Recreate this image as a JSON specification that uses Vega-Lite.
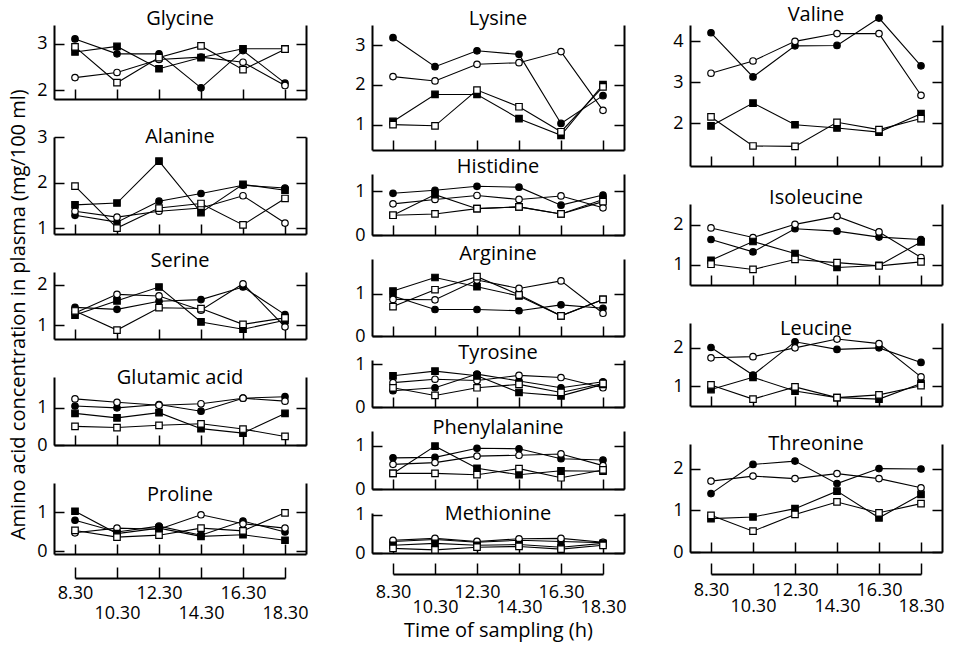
{
"$schema":"https://vega.github.io/schema/vega-lite/v6.json",
"background":"white",
"padding":{"left":8,"top":5,"right":5,"bottom":5},
"title":{"text":"Amino acid concentration in plasma (mg/100 ml)","orient":"left","anchor":"middle","fontSize":20,"fontWeight":"normal","offset":8,"dx":8},
"datasets":{
"Glycine":[{"s":"fc","t":8.5,"v":3.1},{"s":"fc","t":10.5,"v":2.78},{"s":"fc","t":12.5,"v":2.78},{"s":"fc","t":14.5,"v":2.05},{"s":"fc","t":16.5,"v":2.85},{"s":"fc","t":18.5,"v":2.15},{"s":"oc","t":8.5,"v":2.27},{"s":"oc","t":10.5,"v":2.38},{"s":"oc","t":12.5,"v":2.66},{"s":"oc","t":14.5,"v":2.71},{"s":"oc","t":16.5,"v":2.6},{"s":"oc","t":18.5,"v":2.1},{"s":"fs","t":8.5,"v":2.82},{"s":"fs","t":10.5,"v":2.94},{"s":"fs","t":12.5,"v":2.46},{"s":"fs","t":14.5,"v":2.7},{"s":"fs","t":16.5,"v":2.89},{"s":"fs","t":18.5,"v":2.89},{"s":"os","t":8.5,"v":2.93},{"s":"os","t":10.5,"v":2.16},{"s":"os","t":12.5,"v":2.7},{"s":"os","t":14.5,"v":2.95},{"s":"os","t":16.5,"v":2.44},{"s":"os","t":18.5,"v":2.88}],
"Alanine":[{"s":"fc","t":8.5,"v":1.28},{"s":"fc","t":10.5,"v":1.13},{"s":"fc","t":12.5,"v":1.59},{"s":"fc","t":14.5,"v":1.76},{"s":"fc","t":16.5,"v":1.94},{"s":"fc","t":18.5,"v":1.88},{"s":"oc","t":8.5,"v":1.37},{"s":"oc","t":10.5,"v":1.24},{"s":"oc","t":12.5,"v":1.37},{"s":"oc","t":14.5,"v":1.44},{"s":"oc","t":16.5,"v":1.71},{"s":"oc","t":18.5,"v":1.11},{"s":"fs","t":8.5,"v":1.51},{"s":"fs","t":10.5,"v":1.55},{"s":"fs","t":12.5,"v":2.47},{"s":"fs","t":14.5,"v":1.34},{"s":"fs","t":16.5,"v":1.96},{"s":"fs","t":18.5,"v":1.83},{"s":"os","t":8.5,"v":1.92},{"s":"os","t":10.5,"v":1.0},{"s":"os","t":12.5,"v":1.44},{"s":"os","t":14.5,"v":1.54},{"s":"os","t":16.5,"v":1.07},{"s":"os","t":18.5,"v":1.65}],
"Serine":[{"s":"fc","t":8.5,"v":1.44},{"s":"fc","t":10.5,"v":1.39},{"s":"fc","t":12.5,"v":1.59},{"s":"fc","t":14.5,"v":1.63},{"s":"fc","t":16.5,"v":1.94},{"s":"fc","t":18.5,"v":1.26},{"s":"oc","t":8.5,"v":1.3},{"s":"oc","t":10.5,"v":1.76},{"s":"oc","t":12.5,"v":1.72},{"s":"oc","t":14.5,"v":1.37},{"s":"oc","t":16.5,"v":2.02},{"s":"oc","t":18.5,"v":0.96},{"s":"fs","t":8.5,"v":1.25},{"s":"fs","t":10.5,"v":1.6},{"s":"fs","t":12.5,"v":1.94},{"s":"fs","t":14.5,"v":1.08},{"s":"fs","t":16.5,"v":0.9},{"s":"fs","t":18.5,"v":1.12},{"s":"os","t":8.5,"v":1.35},{"s":"os","t":10.5,"v":0.88},{"s":"os","t":12.5,"v":1.43},{"s":"os","t":14.5,"v":1.41},{"s":"os","t":16.5,"v":1.02},{"s":"os","t":18.5,"v":1.18}],
"Glutamic":[{"s":"fc","t":8.5,"v":1.05},{"s":"fc","t":10.5,"v":1.0},{"s":"fc","t":12.5,"v":1.09},{"s":"fc","t":14.5,"v":0.91},{"s":"fc","t":16.5,"v":1.26},{"s":"fc","t":18.5,"v":1.3},{"s":"oc","t":8.5,"v":1.24},{"s":"oc","t":10.5,"v":1.15},{"s":"oc","t":12.5,"v":1.07},{"s":"oc","t":14.5,"v":1.11},{"s":"oc","t":16.5,"v":1.26},{"s":"oc","t":18.5,"v":1.18},{"s":"fs","t":8.5,"v":0.85},{"s":"fs","t":10.5,"v":0.73},{"s":"fs","t":12.5,"v":0.87},{"s":"fs","t":14.5,"v":0.44},{"s":"fs","t":16.5,"v":0.32},{"s":"fs","t":18.5,"v":0.85},{"s":"os","t":8.5,"v":0.5},{"s":"os","t":10.5,"v":0.47},{"s":"os","t":12.5,"v":0.53},{"s":"os","t":14.5,"v":0.57},{"s":"os","t":16.5,"v":0.43},{"s":"os","t":18.5,"v":0.23}],
"Proline":[{"s":"fc","t":8.5,"v":0.79},{"s":"fc","t":10.5,"v":0.49},{"s":"fc","t":12.5,"v":0.64},{"s":"fc","t":14.5,"v":0.41},{"s":"fc","t":16.5,"v":0.77},{"s":"fc","t":18.5,"v":0.49},{"s":"oc","t":8.5,"v":0.47},{"s":"oc","t":10.5,"v":0.59},{"s":"oc","t":12.5,"v":0.56},{"s":"oc","t":14.5,"v":0.93},{"s":"oc","t":16.5,"v":0.7},{"s":"oc","t":18.5,"v":0.59},{"s":"fs","t":8.5,"v":1.02},{"s":"fs","t":10.5,"v":0.45},{"s":"fs","t":12.5,"v":0.59},{"s":"fs","t":14.5,"v":0.38},{"s":"fs","t":16.5,"v":0.42},{"s":"fs","t":18.5,"v":0.28},{"s":"os","t":8.5,"v":0.53},{"s":"os","t":10.5,"v":0.36},{"s":"os","t":12.5,"v":0.41},{"s":"os","t":14.5,"v":0.59},{"s":"os","t":16.5,"v":0.52},{"s":"os","t":18.5,"v":0.98}],
"Lysine":[{"s":"fc","t":8.5,"v":3.19},{"s":"fc","t":10.5,"v":2.46},{"s":"fc","t":12.5,"v":2.86},{"s":"fc","t":14.5,"v":2.77},{"s":"fc","t":16.5,"v":1.03},{"s":"fc","t":18.5,"v":1.73},{"s":"oc","t":8.5,"v":2.21},{"s":"oc","t":10.5,"v":2.1},{"s":"oc","t":12.5,"v":2.52},{"s":"oc","t":14.5,"v":2.56},{"s":"oc","t":16.5,"v":2.84},{"s":"oc","t":18.5,"v":1.36},{"s":"fs","t":8.5,"v":1.08},{"s":"fs","t":10.5,"v":1.76},{"s":"fs","t":12.5,"v":1.76},{"s":"fs","t":14.5,"v":1.15},{"s":"fs","t":16.5,"v":0.73},{"s":"fs","t":18.5,"v":2.01},{"s":"os","t":8.5,"v":1.0},{"s":"os","t":10.5,"v":0.97},{"s":"os","t":12.5,"v":1.87},{"s":"os","t":14.5,"v":1.45},{"s":"os","t":16.5,"v":0.82},{"s":"os","t":18.5,"v":1.95}],
"Histidine":[{"s":"fc","t":8.5,"v":0.95},{"s":"fc","t":10.5,"v":1.02},{"s":"fc","t":12.5,"v":1.11},{"s":"fc","t":14.5,"v":1.09},{"s":"fc","t":16.5,"v":0.68},{"s":"fc","t":18.5,"v":0.91},{"s":"oc","t":8.5,"v":0.71},{"s":"oc","t":10.5,"v":0.81},{"s":"oc","t":12.5,"v":0.9},{"s":"oc","t":14.5,"v":0.81},{"s":"oc","t":16.5,"v":0.89},{"s":"oc","t":18.5,"v":0.62},{"s":"fs","t":8.5,"v":0.45},{"s":"fs","t":10.5,"v":0.92},{"s":"fs","t":12.5,"v":0.6},{"s":"fs","t":14.5,"v":0.64},{"s":"fs","t":16.5,"v":0.48},{"s":"fs","t":18.5,"v":0.81},{"s":"os","t":8.5,"v":0.45},{"s":"os","t":10.5,"v":0.48},{"s":"os","t":12.5,"v":0.6},{"s":"os","t":14.5,"v":0.64},{"s":"os","t":16.5,"v":0.48},{"s":"os","t":18.5,"v":0.76}],
"Arginine":[{"s":"fc","t":8.5,"v":0.95},{"s":"fc","t":10.5,"v":0.63},{"s":"fc","t":12.5,"v":0.63},{"s":"fc","t":14.5,"v":0.6},{"s":"fc","t":16.5,"v":0.74},{"s":"fc","t":18.5,"v":0.66},{"s":"oc","t":8.5,"v":0.87},{"s":"oc","t":10.5,"v":0.86},{"s":"oc","t":12.5,"v":1.33},{"s":"oc","t":14.5,"v":1.13},{"s":"oc","t":16.5,"v":1.31},{"s":"oc","t":18.5,"v":0.54},{"s":"fs","t":8.5,"v":1.07},{"s":"fs","t":10.5,"v":1.39},{"s":"fs","t":12.5,"v":1.17},{"s":"fs","t":14.5,"v":0.95},{"s":"fs","t":16.5,"v":0.48},{"s":"fs","t":18.5,"v":0.87},{"s":"os","t":8.5,"v":0.7},{"s":"os","t":10.5,"v":1.1},{"s":"os","t":12.5,"v":1.41},{"s":"os","t":14.5,"v":0.98},{"s":"os","t":16.5,"v":0.48},{"s":"os","t":18.5,"v":0.87}],
"Tyrosine":[{"s":"fc","t":8.5,"v":0.38},{"s":"fc","t":10.5,"v":0.45},{"s":"fc","t":12.5,"v":0.77},{"s":"fc","t":14.5,"v":0.61},{"s":"fc","t":16.5,"v":0.45},{"s":"fc","t":18.5,"v":0.59},{"s":"oc","t":8.5,"v":0.57},{"s":"oc","t":10.5,"v":0.65},{"s":"oc","t":12.5,"v":0.62},{"s":"oc","t":14.5,"v":0.74},{"s":"oc","t":16.5,"v":0.69},{"s":"oc","t":18.5,"v":0.45},{"s":"fs","t":8.5,"v":0.73},{"s":"fs","t":10.5,"v":0.84},{"s":"fs","t":12.5,"v":0.73},{"s":"fs","t":14.5,"v":0.34},{"s":"fs","t":16.5,"v":0.26},{"s":"fs","t":18.5,"v":0.53},{"s":"os","t":8.5,"v":0.45},{"s":"os","t":10.5,"v":0.27},{"s":"os","t":12.5,"v":0.45},{"s":"os","t":14.5,"v":0.53},{"s":"os","t":16.5,"v":0.34},{"s":"os","t":18.5,"v":0.55}],
"Phenylalanine":[{"s":"fc","t":8.5,"v":0.72},{"s":"fc","t":10.5,"v":0.73},{"s":"fc","t":12.5,"v":0.94},{"s":"fc","t":14.5,"v":0.93},{"s":"fc","t":16.5,"v":0.7},{"s":"fc","t":18.5,"v":0.67},{"s":"oc","t":8.5,"v":0.57},{"s":"oc","t":10.5,"v":0.61},{"s":"oc","t":12.5,"v":0.76},{"s":"oc","t":14.5,"v":0.78},{"s":"oc","t":16.5,"v":0.81},{"s":"oc","t":18.5,"v":0.54},{"s":"fs","t":8.5,"v":0.36},{"s":"fs","t":10.5,"v":0.99},{"s":"fs","t":12.5,"v":0.48},{"s":"fs","t":14.5,"v":0.33},{"s":"fs","t":16.5,"v":0.42},{"s":"fs","t":18.5,"v":0.41},{"s":"os","t":8.5,"v":0.36},{"s":"os","t":10.5,"v":0.36},{"s":"os","t":12.5,"v":0.33},{"s":"os","t":14.5,"v":0.47},{"s":"os","t":16.5,"v":0.26},{"s":"os","t":18.5,"v":0.44}],
"Methionine":[{"s":"fc","t":8.5,"v":0.3},{"s":"fc","t":10.5,"v":0.35},{"s":"fc","t":12.5,"v":0.28},{"s":"fc","t":14.5,"v":0.33},{"s":"fc","t":16.5,"v":0.3},{"s":"fc","t":18.5,"v":0.27},{"s":"oc","t":8.5,"v":0.33},{"s":"oc","t":10.5,"v":0.38},{"s":"oc","t":12.5,"v":0.3},{"s":"oc","t":14.5,"v":0.37},{"s":"oc","t":16.5,"v":0.38},{"s":"oc","t":18.5,"v":0.28},{"s":"fs","t":8.5,"v":0.2},{"s":"fs","t":10.5,"v":0.25},{"s":"fs","t":12.5,"v":0.2},{"s":"fs","t":14.5,"v":0.22},{"s":"fs","t":16.5,"v":0.15},{"s":"fs","t":18.5,"v":0.25},{"s":"os","t":8.5,"v":0.12},{"s":"os","t":10.5,"v":0.08},{"s":"os","t":12.5,"v":0.15},{"s":"os","t":14.5,"v":0.17},{"s":"os","t":16.5,"v":0.1},{"s":"os","t":18.5,"v":0.2}],
"Valine":[{"s":"fc","t":8.5,"v":4.21},{"s":"fc","t":10.5,"v":3.13},{"s":"fc","t":12.5,"v":3.89},{"s":"fc","t":14.5,"v":3.9},{"s":"fc","t":16.5,"v":4.57},{"s":"fc","t":18.5,"v":3.4},{"s":"oc","t":8.5,"v":3.22},{"s":"oc","t":10.5,"v":3.52},{"s":"oc","t":12.5,"v":4.0},{"s":"oc","t":14.5,"v":4.19},{"s":"oc","t":16.5,"v":4.19},{"s":"oc","t":18.5,"v":2.68},{"s":"fs","t":8.5,"v":1.93},{"s":"fs","t":10.5,"v":2.49},{"s":"fs","t":12.5,"v":1.96},{"s":"fs","t":14.5,"v":1.88},{"s":"fs","t":16.5,"v":1.78},{"s":"fs","t":18.5,"v":2.23},{"s":"os","t":8.5,"v":2.15},{"s":"os","t":10.5,"v":1.44},{"s":"os","t":12.5,"v":1.43},{"s":"os","t":14.5,"v":2.02},{"s":"os","t":16.5,"v":1.84},{"s":"os","t":18.5,"v":2.11}],
"Isoleucine":[{"s":"fc","t":8.5,"v":1.63},{"s":"fc","t":10.5,"v":1.32},{"s":"fc","t":12.5,"v":1.9},{"s":"fc","t":14.5,"v":1.84},{"s":"fc","t":16.5,"v":1.69},{"s":"fc","t":18.5,"v":1.63},{"s":"oc","t":8.5,"v":1.92},{"s":"oc","t":10.5,"v":1.68},{"s":"oc","t":12.5,"v":2.01},{"s":"oc","t":14.5,"v":2.21},{"s":"oc","t":16.5,"v":1.82},{"s":"oc","t":18.5,"v":1.18},{"s":"fs","t":8.5,"v":1.11},{"s":"fs","t":10.5,"v":1.58},{"s":"fs","t":12.5,"v":1.28},{"s":"fs","t":14.5,"v":0.93},{"s":"fs","t":16.5,"v":0.98},{"s":"fs","t":18.5,"v":1.57},{"s":"os","t":8.5,"v":1.01},{"s":"os","t":10.5,"v":0.88},{"s":"os","t":12.5,"v":1.13},{"s":"os","t":14.5,"v":1.05},{"s":"os","t":16.5,"v":0.97},{"s":"os","t":18.5,"v":1.07}],
"Leucine":[{"s":"fc","t":8.5,"v":2.01},{"s":"fc","t":10.5,"v":1.29},{"s":"fc","t":12.5,"v":2.16},{"s":"fc","t":14.5,"v":1.96},{"s":"fc","t":16.5,"v":2.0},{"s":"fc","t":18.5,"v":1.62},{"s":"oc","t":8.5,"v":1.74},{"s":"oc","t":10.5,"v":1.77},{"s":"oc","t":12.5,"v":2.0},{"s":"oc","t":14.5,"v":2.23},{"s":"oc","t":16.5,"v":2.11},{"s":"oc","t":18.5,"v":1.24},{"s":"fs","t":8.5,"v":0.91},{"s":"fs","t":10.5,"v":1.23},{"s":"fs","t":12.5,"v":0.87},{"s":"fs","t":14.5,"v":0.7},{"s":"fs","t":16.5,"v":0.66},{"s":"fs","t":18.5,"v":1.07},{"s":"os","t":8.5,"v":1.03},{"s":"os","t":10.5,"v":0.66},{"s":"os","t":12.5,"v":0.98},{"s":"os","t":14.5,"v":0.7},{"s":"os","t":16.5,"v":0.77},{"s":"os","t":18.5,"v":1.01}],
"Threonine":[{"s":"fc","t":8.5,"v":1.4},{"s":"fc","t":10.5,"v":2.1},{"s":"fc","t":12.5,"v":2.18},{"s":"fc","t":14.5,"v":1.64},{"s":"fc","t":16.5,"v":2.0},{"s":"fc","t":18.5,"v":1.99},{"s":"oc","t":8.5,"v":1.7},{"s":"oc","t":10.5,"v":1.82},{"s":"oc","t":12.5,"v":1.76},{"s":"oc","t":14.5,"v":1.88},{"s":"oc","t":16.5,"v":1.76},{"s":"oc","t":18.5,"v":1.54},{"s":"fs","t":8.5,"v":0.8},{"s":"fs","t":10.5,"v":0.84},{"s":"fs","t":12.5,"v":1.04},{"s":"fs","t":14.5,"v":1.46},{"s":"fs","t":16.5,"v":0.82},{"s":"fs","t":18.5,"v":1.38},{"s":"os","t":8.5,"v":0.88},{"s":"os","t":10.5,"v":0.5},{"s":"os","t":12.5,"v":0.9},{"s":"os","t":14.5,"v":1.2},{"s":"os","t":16.5,"v":0.94},{"s":"os","t":18.5,"v":1.16}]
},
"hconcat":[
{"vconcat":[
{"data":{"name":"Glycine"},"width":252,"height":74,"title":{"text":"Glycine","offset":-4},
"encoding":{"x":{"field":"t","type":"quantitative","title":null,"scale":{"domain":[7.5,19.5]},"axis":{"values":[8.5,10.5,12.5,14.5,16.5,18.5],"labels":false}},"y":{"field":"v","type":"quantitative","title":null,"scale":{"domain":[1.81,3.4]},"axis":{"values":[2,3],"format":"d"}}},
"layer":[{"mark":{"type":"line","color":"black"},"encoding":{"detail":{"field":"s","type":"nominal"}}},
{"mark":{"type":"point","filled":true,"stroke":"black","opacity":1},"encoding":{"x":{"field":"t","type":"quantitative","title":null,"scale":{"domain":[7.5,19.5]},"axis":null},"y":{"field":"v","type":"quantitative","title":null,"scale":{"domain":[1.81,3.4]},"axis":{"orient":"right","values":[2,3],"labels":false}},"shape":{"field":"s","type":"nominal","legend":null},"fill":{"field":"s","type":"nominal","legend":null}}}],
"resolve":{"axis":{"x":"independent","y":"independent"}}},
{"data":{"name":"Alanine"},"width":252,"height":97,"title":{"text":"Alanine","offset":-19},
"encoding":{"x":{"field":"t","type":"quantitative","title":null,"scale":{"domain":[7.5,19.5]},"axis":{"values":[8.5,10.5,12.5,14.5,16.5,18.5],"labels":false}},"y":{"field":"v","type":"quantitative","title":null,"scale":{"domain":[0.87,3.0]},"axis":{"values":[1,2,3],"format":"d"}}},
"layer":[{"mark":{"type":"line","color":"black"},"encoding":{"detail":{"field":"s","type":"nominal"}}},
{"mark":{"type":"point","filled":true,"stroke":"black","opacity":1},"encoding":{"x":{"field":"t","type":"quantitative","title":null,"scale":{"domain":[7.5,19.5]},"axis":null},"y":{"field":"v","type":"quantitative","title":null,"scale":{"domain":[0.87,3.0]},"axis":{"orient":"right","values":[1,2,3],"labels":false}},"shape":{"field":"s","type":"nominal","legend":null},"fill":{"field":"s","type":"nominal","legend":null}}}],
"resolve":{"axis":{"x":"independent","y":"independent"}}},
{"data":{"name":"Serine"},"width":252,"height":67,"title":{"text":"Serine","offset":1},
"encoding":{"x":{"field":"t","type":"quantitative","title":null,"scale":{"domain":[7.5,19.5]},"axis":{"values":[8.5,10.5,12.5,14.5,16.5,18.5],"labels":false}},"y":{"field":"v","type":"quantitative","title":null,"scale":{"domain":[0.66,2.31]},"axis":{"values":[1,2],"format":"d"}}},
"layer":[{"mark":{"type":"line","color":"black"},"encoding":{"detail":{"field":"s","type":"nominal"}}},
{"mark":{"type":"point","filled":true,"stroke":"black","opacity":1},"encoding":{"x":{"field":"t","type":"quantitative","title":null,"scale":{"domain":[7.5,19.5]},"axis":null},"y":{"field":"v","type":"quantitative","title":null,"scale":{"domain":[0.66,2.31]},"axis":{"orient":"right","values":[1,2],"labels":false}},"shape":{"field":"s","type":"nominal","legend":null},"fill":{"field":"s","type":"nominal","legend":null}}}],
"resolve":{"axis":{"x":"independent","y":"independent"}}},
{"data":{"name":"Glutamic"},"width":252,"height":68,"title":{"text":"Glutamic acid","offset":-11},
"encoding":{"x":{"field":"t","type":"quantitative","title":null,"scale":{"domain":[7.5,19.5]},"axis":{"values":[8.5,10.5,12.5,14.5,16.5,18.5],"labels":false}},"y":{"field":"v","type":"quantitative","title":null,"scale":{"domain":[0,1.83]},"axis":{"values":[0,1],"format":"d"}}},
"layer":[{"mark":{"type":"line","color":"black"},"encoding":{"detail":{"field":"s","type":"nominal"}}},
{"mark":{"type":"point","filled":true,"stroke":"black","opacity":1},"encoding":{"x":{"field":"t","type":"quantitative","title":null,"scale":{"domain":[7.5,19.5]},"axis":null},"y":{"field":"v","type":"quantitative","title":null,"scale":{"domain":[0,1.83]},"axis":{"orient":"right","values":[0,1],"labels":false}},"shape":{"field":"s","type":"nominal","legend":null},"fill":{"field":"s","type":"nominal","legend":null}}}],
"resolve":{"axis":{"x":"independent","y":"independent"}}},
{"data":{"name":"Proline"},"width":252,"height":71,"title":{"text":"Proline","offset":-22},
"encoding":{"x":{"field":"t","type":"quantitative","title":null,"scale":{"domain":[7.5,19.5]},"axis":{"values":[8.5,10.5,12.5,14.5,16.5,18.5],"labels":false}},"y":{"field":"v","type":"quantitative","title":null,"scale":{"domain":[-0.07,1.74]},"axis":{"values":[0,1],"format":"d"}}},
"layer":[{"mark":{"type":"line","color":"black"},"encoding":{"detail":{"field":"s","type":"nominal"}}},
{"mark":{"type":"point","filled":true,"stroke":"black","opacity":1},"encoding":{"x":{"field":"t","type":"quantitative","title":null,"scale":{"domain":[8.5,18.5],"range":[21,231]},"axis":{"orient":"bottom","values":[8.5,10.5,12.5,14.5,16.5,18.5],"offset":24,"tickSize":-11,"labelPadding":17,"labelExpr":"(datum.value-8.5)%4==0 ? floor(datum.value)+'.30' : ''"}},"y":{"field":"v","type":"quantitative","title":null,"scale":{"domain":[-0.07,1.74]},"axis":{"orient":"right","values":[0,1],"labels":false}},"shape":{"field":"s","type":"nominal","legend":null},"fill":{"field":"s","type":"nominal","legend":null}}},
{"mark":{"type":"point","opacity":0},"encoding":{"x":{"field":"t","type":"quantitative","title":null,"scale":{"domain":[8.5,18.5],"range":[21,231]},"axis":{"orient":"bottom","values":[10.5,14.5,18.5],"offset":24,"domain":false,"ticks":false,"labelPadding":26,"labelExpr":"floor(datum.value)+'.30'"}},"y":{"field":"v","type":"quantitative","title":null,"scale":{"domain":[-0.07,1.74]},"axis":null}}}],
"resolve":{"scale":{"x":"independent"},"axis":{"x":"independent","y":"independent"}}}
],"spacing":38,"bounds":"flush"},
{"vconcat":[
{"data":{"name":"Lysine"},"width":252,"height":125,"title":{"text":"Lysine","offset":-4},
"encoding":{"x":{"field":"t","type":"quantitative","title":null,"scale":{"domain":[7.5,19.5]},"axis":{"values":[8.5,10.5,12.5,14.5,16.5,18.5],"labels":false}},"y":{"field":"v","type":"quantitative","title":null,"scale":{"domain":[0.36,3.51]},"axis":{"values":[1,2,3],"format":"d"}}},
"layer":[{"mark":{"type":"line","color":"black"},"encoding":{"detail":{"field":"s","type":"nominal"}}},
{"mark":{"type":"point","filled":true,"stroke":"black","opacity":1},"encoding":{"x":{"field":"t","type":"quantitative","title":null,"scale":{"domain":[7.5,19.5]},"axis":null},"y":{"field":"v","type":"quantitative","title":null,"scale":{"domain":[0.36,3.51]},"axis":{"orient":"right","values":[1,2,3],"labels":false}},"shape":{"field":"s","type":"nominal","legend":null},"fill":{"field":"s","type":"nominal","legend":null}}}],
"resolve":{"axis":{"x":"independent","y":"independent"}}},
{"data":{"name":"Histidine"},"width":252,"height":61,"title":{"text":"Histidine","offset":-3},
"encoding":{"x":{"field":"t","type":"quantitative","title":null,"scale":{"domain":[7.5,19.5]},"axis":{"values":[8.5,10.5,12.5,14.5,16.5,18.5],"labels":false}},"y":{"field":"v","type":"quantitative","title":null,"scale":{"domain":[0,1.39]},"axis":{"values":[0,1],"format":"d"}}},
"layer":[{"mark":{"type":"line","color":"black"},"encoding":{"detail":{"field":"s","type":"nominal"}}},
{"mark":{"type":"point","filled":true,"stroke":"black","opacity":1},"encoding":{"x":{"field":"t","type":"quantitative","title":null,"scale":{"domain":[7.5,19.5]},"axis":null},"y":{"field":"v","type":"quantitative","title":null,"scale":{"domain":[0,1.39]},"axis":{"orient":"right","values":[0,1],"labels":false}},"shape":{"field":"s","type":"nominal","legend":null},"fill":{"field":"s","type":"nominal","legend":null}}}],
"resolve":{"axis":{"x":"independent","y":"independent"}}},
{"data":{"name":"Arginine"},"width":252,"height":77,"title":{"text":"Arginine","offset":-5},
"encoding":{"x":{"field":"t","type":"quantitative","title":null,"scale":{"domain":[7.5,19.5]},"axis":{"values":[8.5,10.5,12.5,14.5,16.5,18.5],"labels":false}},"y":{"field":"v","type":"quantitative","title":null,"scale":{"domain":[0,1.83]},"axis":{"values":[0,1],"format":"d"}}},
"layer":[{"mark":{"type":"line","color":"black"},"encoding":{"detail":{"field":"s","type":"nominal"}}},
{"mark":{"type":"point","filled":true,"stroke":"black","opacity":1},"encoding":{"x":{"field":"t","type":"quantitative","title":null,"scale":{"domain":[7.5,19.5]},"axis":null},"y":{"field":"v","type":"quantitative","title":null,"scale":{"domain":[0,1.83]},"axis":{"orient":"right","values":[0,1],"labels":false}},"shape":{"field":"s","type":"nominal","legend":null},"fill":{"field":"s","type":"nominal","legend":null}}}],
"resolve":{"axis":{"x":"independent","y":"independent"}}},
{"data":{"name":"Tyrosine"},"width":252,"height":47,"title":{"text":"Tyrosine","offset":-8},
"encoding":{"x":{"field":"t","type":"quantitative","title":null,"scale":{"domain":[7.5,19.5]},"axis":{"values":[8.5,10.5,12.5,14.5,16.5,18.5],"labels":false}},"y":{"field":"v","type":"quantitative","title":null,"scale":{"domain":[0,1.1]},"axis":{"values":[0,1],"format":"d"}}},
"layer":[{"mark":{"type":"line","color":"black"},"encoding":{"detail":{"field":"s","type":"nominal"}}},
{"mark":{"type":"point","filled":true,"stroke":"black","opacity":1},"encoding":{"x":{"field":"t","type":"quantitative","title":null,"scale":{"domain":[7.5,19.5]},"axis":null},"y":{"field":"v","type":"quantitative","title":null,"scale":{"domain":[0,1.1]},"axis":{"orient":"right","values":[0,1],"labels":false}},"shape":{"field":"s","type":"nominal","legend":null},"fill":{"field":"s","type":"nominal","legend":null}}}],
"resolve":{"axis":{"x":"independent","y":"independent"}}},
{"data":{"name":"Phenylalanine"},"width":252,"height":58,"title":{"text":"Phenylalanine","offset":-7},
"encoding":{"x":{"field":"t","type":"quantitative","title":null,"scale":{"domain":[7.5,19.5]},"axis":{"values":[8.5,10.5,12.5,14.5,16.5,18.5],"labels":false}},"y":{"field":"v","type":"quantitative","title":null,"scale":{"domain":[0,1.34]},"axis":{"values":[0,1],"format":"d"}}},
"layer":[{"mark":{"type":"line","color":"black"},"encoding":{"detail":{"field":"s","type":"nominal"}}},
{"mark":{"type":"point","filled":true,"stroke":"black","opacity":1},"encoding":{"x":{"field":"t","type":"quantitative","title":null,"scale":{"domain":[7.5,19.5]},"axis":null},"y":{"field":"v","type":"quantitative","title":null,"scale":{"domain":[0,1.34]},"axis":{"orient":"right","values":[0,1],"labels":false}},"shape":{"field":"s","type":"nominal","legend":null},"fill":{"field":"s","type":"nominal","legend":null}}}],
"resolve":{"axis":{"x":"independent","y":"independent"}}},
{"data":{"name":"Methionine"},"width":252,"height":40,"title":{"text":"Methionine","offset":-18},
"encoding":{"x":{"field":"t","type":"quantitative","title":null,"scale":{"domain":[7.5,19.5]},"axis":{"values":[8.5,10.5,12.5,14.5,16.5,18.5],"labels":false}},"y":{"field":"v","type":"quantitative","title":null,"scale":{"domain":[0,1.04]},"axis":{"values":[0,1],"format":"d"}}},
"layer":[{"mark":{"type":"line","color":"black"},"encoding":{"detail":{"field":"s","type":"nominal"}}},
{"mark":{"type":"point","filled":true,"stroke":"black","opacity":1},"encoding":{"x":{"field":"t","type":"quantitative","title":null,"scale":{"domain":[8.5,18.5],"range":[21,231]},"axis":{"orient":"bottom","values":[8.5,10.5,12.5,14.5,16.5,18.5],"offset":21,"tickSize":-11,"labelPadding":20,"labelExpr":"(datum.value-8.5)%4==0 ? floor(datum.value)+'.30' : ''"}},"y":{"field":"v","type":"quantitative","title":null,"scale":{"domain":[0,1.04]},"axis":{"orient":"right","values":[0,1],"labels":false}},"shape":{"field":"s","type":"nominal","legend":null},"fill":{"field":"s","type":"nominal","legend":null}}},
{"mark":{"type":"point","opacity":0},"encoding":{"x":{"field":"t","type":"quantitative","title":"Time of sampling (h)","scale":{"domain":[8.5,18.5],"range":[21,231]},"axis":{"orient":"bottom","values":[10.5,14.5,18.5],"offset":21,"domain":false,"ticks":false,"labelPadding":24,"titlePadding":4,"titleFontSize":20,"labelExpr":"floor(datum.value)+'.30'"}},"y":{"field":"v","type":"quantitative","title":null,"scale":{"domain":[0,1.04]},"axis":null}}}],
"resolve":{"scale":{"x":"independent"},"axis":{"x":"independent","y":"independent"}}}
],"spacing":24,"bounds":"flush"},
{"vconcat":[
{"data":{"name":"Valine"},"width":252,"height":141,"title":{"text":"Valine","offset":-13},
"encoding":{"x":{"field":"t","type":"quantitative","title":null,"scale":{"domain":[7.5,19.5]},"axis":{"values":[8.5,10.5,12.5,14.5,16.5,18.5],"labels":false}},"y":{"field":"v","type":"quantitative","title":null,"scale":{"domain":[0.95,4.4]},"axis":{"values":[2,3,4],"format":"d"}}},
"layer":[{"mark":{"type":"line","color":"black"},"encoding":{"detail":{"field":"s","type":"nominal"}}},
{"mark":{"type":"point","filled":true,"stroke":"black","opacity":1},"encoding":{"x":{"field":"t","type":"quantitative","title":null,"scale":{"domain":[7.5,19.5]},"axis":null},"y":{"field":"v","type":"quantitative","title":null,"scale":{"domain":[0.95,4.4]},"axis":{"orient":"right","values":[2,3,4],"labels":false}},"shape":{"field":"s","type":"nominal","legend":null},"fill":{"field":"s","type":"nominal","legend":null}}}],
"resolve":{"axis":{"x":"independent","y":"independent"}}},
{"data":{"name":"Isoleucine"},"width":252,"height":81,"title":{"text":"Isoleucine","offset":-4},
"encoding":{"x":{"field":"t","type":"quantitative","title":null,"scale":{"domain":[7.5,19.5]},"axis":{"values":[8.5,10.5,12.5,14.5,16.5,18.5],"labels":false}},"y":{"field":"v","type":"quantitative","title":null,"scale":{"domain":[0.49,2.52]},"axis":{"values":[1,2],"format":"d"}}},
"layer":[{"mark":{"type":"line","color":"black"},"encoding":{"detail":{"field":"s","type":"nominal"}}},
{"mark":{"type":"point","filled":true,"stroke":"black","opacity":1},"encoding":{"x":{"field":"t","type":"quantitative","title":null,"scale":{"domain":[7.5,19.5]},"axis":null},"y":{"field":"v","type":"quantitative","title":null,"scale":{"domain":[0.49,2.52]},"axis":{"orient":"right","values":[1,2],"labels":false}},"shape":{"field":"s","type":"nominal","legend":null},"fill":{"field":"s","type":"nominal","legend":null}}}],
"resolve":{"axis":{"x":"independent","y":"independent"}}},
{"data":{"name":"Leucine"},"width":252,"height":83,"title":{"text":"Leucine","offset":-16},
"encoding":{"x":{"field":"t","type":"quantitative","title":null,"scale":{"domain":[7.5,19.5]},"axis":{"values":[8.5,10.5,12.5,14.5,16.5,18.5],"labels":false}},"y":{"field":"v","type":"quantitative","title":null,"scale":{"domain":[0.48,2.65]},"axis":{"values":[1,2],"format":"d"}}},
"layer":[{"mark":{"type":"line","color":"black"},"encoding":{"detail":{"field":"s","type":"nominal"}}},
{"mark":{"type":"point","filled":true,"stroke":"black","opacity":1},"encoding":{"x":{"field":"t","type":"quantitative","title":null,"scale":{"domain":[7.5,19.5]},"axis":null},"y":{"field":"v","type":"quantitative","title":null,"scale":{"domain":[0.48,2.65]},"axis":{"orient":"right","values":[1,2],"labels":false}},"shape":{"field":"s","type":"nominal","legend":null},"fill":{"field":"s","type":"nominal","legend":null}}}],
"resolve":{"axis":{"x":"independent","y":"independent"}}},
{"data":{"name":"Threonine"},"width":252,"height":108,"title":{"text":"Threonine","offset":-10},
"encoding":{"x":{"field":"t","type":"quantitative","title":null,"scale":{"domain":[7.5,19.5]},"axis":{"values":[8.5,10.5,12.5,14.5,16.5,18.5],"labels":false}},"y":{"field":"v","type":"quantitative","title":null,"scale":{"domain":[0,2.59]},"axis":{"values":[0,1,2],"format":"d"}}},
"layer":[{"mark":{"type":"line","color":"black"},"encoding":{"detail":{"field":"s","type":"nominal"}}},
{"mark":{"type":"point","filled":true,"stroke":"black","opacity":1},"encoding":{"x":{"field":"t","type":"quantitative","title":null,"scale":{"domain":[8.5,18.5],"range":[21,231]},"axis":{"orient":"bottom","values":[8.5,10.5,12.5,14.5,16.5,18.5],"offset":22,"tickSize":-11,"labelPadding":18,"labelExpr":"(datum.value-8.5)%4==0 ? floor(datum.value)+'.30' : ''"}},"y":{"field":"v","type":"quantitative","title":null,"scale":{"domain":[0,2.59]},"axis":{"orient":"right","values":[0,1,2],"labels":false}},"shape":{"field":"s","type":"nominal","legend":null},"fill":{"field":"s","type":"nominal","legend":null}}},
{"mark":{"type":"point","opacity":0},"encoding":{"x":{"field":"t","type":"quantitative","title":null,"scale":{"domain":[8.5,18.5],"range":[21,231]},"axis":{"orient":"bottom","values":[10.5,14.5,18.5],"offset":22,"domain":false,"ticks":false,"labelPadding":23,"labelExpr":"floor(datum.value)+'.30'"}},"y":{"field":"v","type":"quantitative","title":null,"scale":{"domain":[0,2.59]},"axis":null}}}],
"resolve":{"scale":{"x":"independent"},"axis":{"x":"independent","y":"independent"}}}
],"spacing":38,"bounds":"flush"}
],
"spacing":46,
"config":{
"view":{"stroke":null},
"font":"Open Sans",
"title":{"fontSize":20,"fontWeight":"normal","anchor":"middle","baseline":"bottom","color":"black"},
"axis":{"domainColor":"black","domainWidth":2,"tickColor":"black","tickWidth":1.5,"tickSize":-10,"labelFontSize":18,"labelColor":"black","labelFlush":false,"labelOverlap":false,"labelPadding":17,"grid":false,"titleFontWeight":"normal","titleFontSize":19,"titleColor":"black"},
"range":{"category":["black","black","white","white"],"symbol":["circle","square","circle","square"]},
"point":{"size":42,"strokeWidth":1.2},
"line":{"strokeWidth":1.1}
}
}
